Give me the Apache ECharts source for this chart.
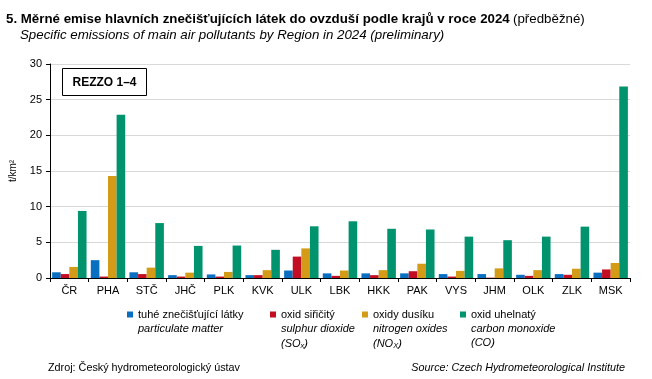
<!DOCTYPE html>
<html><head><meta charset="utf-8">
<script src="https://cdn.jsdelivr.net/npm/echarts@6/dist/echarts.min.js"></script>
<style>html,body{margin:0;padding:0;background:#fff}#c{width:652px;height:379px}</style>
</head><body><div id="c"></div>
<script>
const categories = ['ČR','PHA','STČ','JHČ','PLK','KVK','ULK','LBK','HKK','PAK','VYS','JHM','OLK','ZLK','MSK'];
const particulate = [0.8,2.5,0.8,0.4,0.5,0.4,1.05,0.65,0.65,0.65,0.55,0.55,0.45,0.55,0.75];
const sulphur = [0.55,0.2,0.55,0.2,0.2,0.4,3.0,0.3,0.4,0.95,0.2,0.05,0.3,0.45,1.2];
const nitrogen = [1.55,14.3,1.45,0.75,0.85,1.1,4.15,1.05,1.1,2.0,1.0,1.35,1.1,1.3,2.1];
const carbon = [9.4,22.9,7.7,4.5,4.55,3.95,7.25,7.95,6.9,6.8,5.8,5.3,5.8,7.2,26.85];
const yTicks = [0,5,10,15,20,25,30];
const seriesNames = ['tuhé znečišťující látky','oxid siřičitý','oxidy dusíku','oxid uhelnatý'];
const colors = ['#0a6fc0','#c30d23','#d39b17','#00936e'];

const FONT = '"Liberation Sans", Arial, sans-serif';
const chart = echarts.init(document.getElementById('c'), null, {renderer:'canvas'});
const dataSets = [particulate, sulphur, nitrogen, carbon];
const legendLeft = [127, 270, 362, 460];
const subLines = [
  ['{i|particulate matter}'],
  ['{i|sulphur dioxide}', '{i|(SO}{s|x}{i|)}'],
  ['{i|nitrogen oxides}', '{i|(NO}{s|X}{i|)}'],
  ['{i|carbon monoxide}', '{i|(CO)}']
];
const richStyle = {
  i:{fontFamily:FONT,fontSize:11,fontStyle:'italic',fill:'#000'},
  s:{fontFamily:FONT,fontSize:7.5,fontStyle:'italic',fill:'#000',padding:[5,0,0,0]}
};
const graphics = [
  {type:'text', left:6, top:13, style:{rich:{
     b:{fontFamily:FONT,fontSize:13.3,fontWeight:'bold',fill:'#000'},
     n:{fontFamily:FONT,fontSize:13.3,fill:'#000'}},
     text:'{b|5. Měrné emise hlavních znečišťujících látek do ovzduší podle krajů v roce 2024} {n|(předběžné)}'}},
  {type:'text', left:20, top:29, style:{text:'Specific emissions of main air pollutants by Region in 2024 (preliminary)',
     fontFamily:FONT,fontSize:13.3,fontStyle:'italic',fill:'#000'}},
  {type:'rect', shape:{x:62.5,y:68.5,width:84,height:27}, style:{fill:'#fff',stroke:'#000',lineWidth:1}},
  {type:'text', x:104.5, y:82.5, style:{text:'REZZO 1–4',fontFamily:FONT,fontSize:12,fontWeight:'bold',fill:'#000',align:'center',verticalAlign:'middle'}},
  {type:'text', x:48, y:368, style:{text:'Zdroj: Český hydrometeorologický ústav',fontFamily:FONT,fontSize:10.8,fill:'#000',verticalAlign:'middle'}},
  {type:'text', x:625, y:368, style:{text:'Source: Czech Hydrometeorological Institute',fontFamily:FONT,fontSize:10.8,fontStyle:'italic',fill:'#000',align:'right',verticalAlign:'middle'}}
];
subLines.forEach((lines, k) => {
  lines.forEach((ln, j) => {
    graphics.push({type:'text', x:legendLeft[k]+11, y:323+14*j, style:{rich:richStyle, text:ln}});
  });
});

const option = {
  animation:false,
  textStyle:{fontFamily:FONT},
  grid:{left:49, right:22, top:64, bottom:101, containLabel:false},
  legend: seriesNames.map((n,k)=>({
    data:[n], left:legendLeft[k], top:309, itemWidth:6, itemHeight:6, itemGap:0, icon:'rect', padding:0,
    textStyle:{fontFamily:FONT,fontSize:11,color:'#000'}, selectedMode:false
  })),
  xAxis:{type:'category', data:categories,
    axisLine:{lineStyle:{color:'#000',width:1}},
    axisTick:{show:true,interval:0,alignWithLabel:false,length:4,lineStyle:{color:'#000'}},
    axisLabel:{color:'#000',fontFamily:FONT,fontSize:11,margin:7,interval:0}},
  yAxis:{type:'value', min:yTicks[0], max:yTicks[yTicks.length-1], interval:yTicks[1]-yTicks[0],
    name:'t/km²', nameLocation:'middle', nameGap:32, nameRotate:90,
    nameTextStyle:{color:'#000',fontFamily:FONT,fontSize:10},
    axisLine:{show:true,lineStyle:{color:'#000'}},
    axisTick:{show:true,length:4,lineStyle:{color:'#000'}},
    axisLabel:{color:'#000',fontFamily:FONT,fontSize:11,margin:8},
    splitLine:{lineStyle:{color:'#d9d9d9',width:1}}},
  series: seriesNames.map((n,k)=>({
    name:n, type:'bar', data:dataSets[k], barGap:'0%', barCategoryGap:'11%',
    itemStyle:{color:colors[k]}
  })),
  graphic: graphics
};
chart.setOption(option);
</script></body></html>
